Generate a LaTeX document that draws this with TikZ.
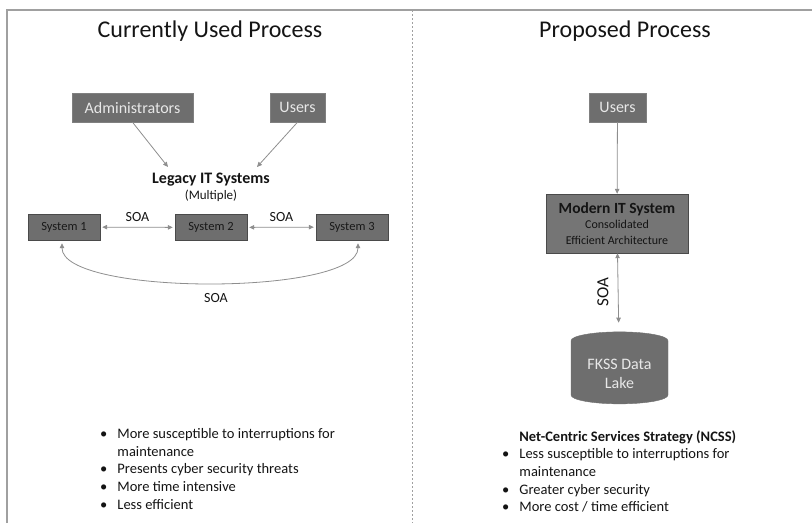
\documentclass[tikz,border=0pt]{standalone}
\usepackage{fontspec}
\setmainfont{Carlito}
\usetikzlibrary{positioning,arrows.meta,shapes.geometric,calc}
\definecolor{frgray}{HTML}{A0A0A0}
\definecolor{boxgray}{HTML}{6E6E6E}
\definecolor{boxedge}{HTML}{4A4A4A}
\definecolor{linkgray}{HTML}{8E8E8E}
\definecolor{lighttext}{HTML}{E8E8E8}
\definecolor{inktext}{HTML}{141414}

\begin{document}
\begin{tikzpicture}[
  x=1pt, y=-1pt,
  font=\fontsize{14.5}{17.7}\selectfont, text=inktext,
  title/.style={font=\fontsize{24}{27}\selectfont},
  actor/.style={draw=boxedge!70, fill=boxgray, text=lighttext,
    font=\fontsize{16}{18}\selectfont, minimum height=29pt, inner sep=0pt},
  sysbox/.style={draw=boxedge, fill=boxgray, text=black!90,
    font=\fontsize{12.5}{14}\selectfont, minimum width=72pt, minimum height=26pt, inner sep=0pt},
  soa/.style={font=\fontsize{14}{16}\selectfont},
  bullets/.style={align=left, anchor=north west, inner sep=0pt},
  link/.style={draw=linkgray, line width=0.8pt, -{Triangle[length=5pt,width=4.5pt]}},
  both/.style={link, {Triangle[length=5pt,width=4.5pt]}-{Triangle[length=5pt,width=4.5pt]}},
  ]
  \useasboundingbox (0,0) rectangle (812,523);

  % frame and divider
  \draw[frgray, line width=2pt] (7,523) -- (7,10) -- (812,10);
  \draw[frgray, line width=0.6pt, dash pattern=on 2pt off 2pt] (412,10) -- (412,523);

  % ---- current process ----
  \node[title] (curtitle) at (210,31) {Currently Used Process};
  \node[actor, minimum width=121pt] (admin) at (132.5,107.5) {Administrators};
  \node[actor, minimum width=55pt] (users) at (297.5,107.5) {Users};
  \node[font=\bfseries\fontsize{16}{18}\selectfont, inner sep=0pt] (legacy) at (211,180) {Legacy IT Systems};
  \node[font=\fontsize{13}{15}\selectfont, inner sep=0pt] (mult) at (211,196) {(Multiple)};
  \coordinate (admintip) at (168,167);
  \coordinate (usertip) at (257,167);
  \draw[link] (admin.south) -- (admintip);
  \draw[link] (users.south) -- (usertip);

  \node[sysbox] (sys1) at (64,227) {System 1};
  \node[sysbox] (sys2) at (211,227.5) {System 2};
  \node[sysbox] (sys3) at (352,227) {System 3};
  \draw[both, shorten <=2pt, shorten >=2pt] (sys1) -- node[soa, above=2pt] {SOA} (sys2);
  \draw[both, shorten <=2pt, shorten >=2pt] (sys2) -- node[soa, above=2pt] {SOA} (sys3);
  \draw[both] ($(sys1.south)+(-2,3)$) .. controls (62,296) and (358,296) .. ($(sys3.south)+(6,3)$);
  \node[soa] (soalow) at (216,298) {SOA};

  \node[bullets] (curlist) at (100,426) {%
    \begin{tabular}{@{}l@{\hspace{10pt}}l@{}}
      \textbullet & More susceptible to interruptions for\\
      & maintenance\\
      \textbullet & Presents cyber security threats\\
      \textbullet & More time intensive\\
      \textbullet & Less efficient
    \end{tabular}};

  % ---- proposed process ----
  \node[title] (protitle) at (625,31) {Proposed Process};
  \node[actor, minimum width=57pt] (pusers) at (617.5,107.5) {Users};
  \node[draw=boxedge, fill=boxgray!95!white, minimum width=142pt, minimum height=59pt,
    align=center, inner sep=0pt] (modern) at (617,223.5)
    {{\bfseries\fontsize{15.5}{15}\selectfont Modern IT System}\\[-2.5pt]
     {\fontsize{12}{15}\selectfont Consolidated}\\[-2.5pt]
     {\fontsize{12}{15}\selectfont Efficient Architecture}};
  \draw[link] (pusers) -- (modern);

  \node[cylinder, shape border rotate=90, aspect=0.25, draw=boxedge!80, fill=boxgray,
    minimum width=97pt, minimum height=72pt, text=lighttext, align=center,
    font=\fontsize{16}{19}\selectfont] (lake) at (619.5,374) {FKSS Data\\Lake};
  \draw[both, shorten >=9pt] (modern) -- node[font=\fontsize{17}{19}\selectfont, rotate=90, left=6pt, anchor=south] {SOA} (lake);

  \node[bullets] (prolist) at (502,428.5) {%
    \begin{tabular}{@{}l@{\hspace{10pt}}l@{}}
      & \textbf{Net-Centric Services Strategy (NCSS)}\\
      \textbullet & Less susceptible to interruptions for\\
      & maintenance\\
      \textbullet & Greater cyber security\\
      \textbullet & More cost / time efficient
    \end{tabular}};
\end{tikzpicture}
\end{document}
